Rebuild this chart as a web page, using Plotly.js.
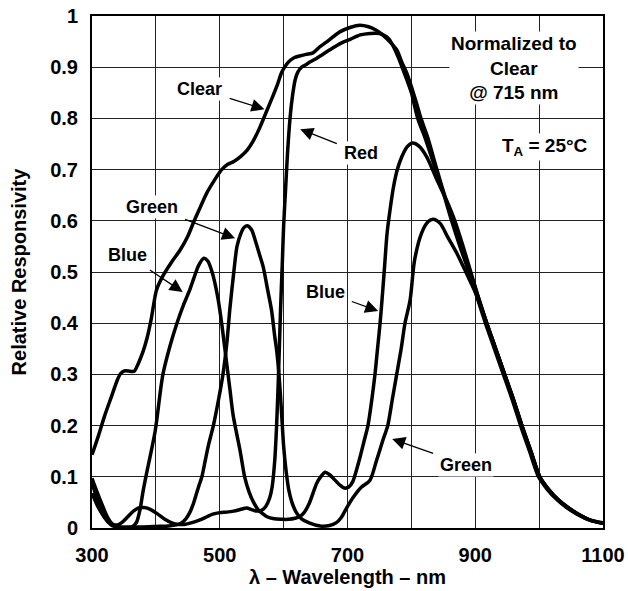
<!DOCTYPE html>
<html>
<head>
<meta charset="utf-8">
<script src="https://cdn.plot.ly/plotly-3.0.1.min.js"></script>
<style>html,body{margin:0;padding:0;background:#fff;}#chart{width:628px;height:591px;}</style>
</head>
<body>
<div id="chart"></div>
<script>
// ---- data ----
const clearWl = [300,310,320,330,340,345,352,360,366,372,380,386,393,401,410,425,438,450,460,470,480,492,503,512,522,533,543,552,563,574,582,590,597,603,610,617,625,635,646,657,670,688,705,719,733,745,755,766,777,785,793,800,808,815,825,840,852,865,878,892,905,918,932,946,960,973,987,1001,1015,1030,1045,1060,1079,1100];
const clearVal = [0.143,0.18,0.22,0.255,0.29,0.302,0.307,0.306,0.306,0.32,0.345,0.37,0.41,0.465,0.49,0.52,0.543,0.57,0.60,0.628,0.655,0.68,0.70,0.71,0.716,0.726,0.738,0.755,0.783,0.816,0.84,0.865,0.89,0.903,0.913,0.919,0.922,0.925,0.928,0.94,0.952,0.969,0.978,0.982,0.979,0.972,0.963,0.95,0.934,0.91,0.888,0.862,0.83,0.80,0.765,0.70,0.65,0.60,0.55,0.50,0.45,0.40,0.35,0.30,0.25,0.20,0.15,0.10,0.075,0.055,0.04,0.028,0.016,0.01];

const redWl = [300,308,316,324,332,340,348,356,364,372,382,392,402,414,425,435,445,455,469,480,489,500,511,522,532,542,550,558,566,572,578,582,586,589,592,595,598,600,603,606,610,614,618,622,628,635,641,650,660,675,690,705,720,735,750,758,765,772,780,790,800,810,822,838,850,863,876,890,903,916,930,944,958,971,985,999,1013,1028,1043,1058,1078,1100];
const redVal = [0.097,0.07,0.045,0.022,0.008,0.006,0.012,0.022,0.032,0.039,0.04,0.036,0.028,0.017,0.01,0.007,0.007,0.01,0.016,0.022,0.027,0.03,0.031,0.033,0.036,0.039,0.036,0.033,0.035,0.042,0.058,0.08,0.13,0.2,0.3,0.42,0.52,0.59,0.66,0.73,0.8,0.845,0.875,0.89,0.9,0.905,0.91,0.916,0.924,0.936,0.947,0.955,0.963,0.966,0.966,0.962,0.955,0.94,0.918,0.885,0.85,0.8,0.76,0.70,0.655,0.60,0.55,0.50,0.45,0.40,0.35,0.30,0.25,0.20,0.15,0.10,0.075,0.055,0.04,0.028,0.016,0.009];

const blueWl = [300,310,320,330,340,350,358,365,370,375,380,386,391,399,411,422,433,443,453,460,467,475,481,488,497,503,511,516,521,532,539,546,553,560,567,574,585,596,608,618,625,632,640,652,658,665,672,680,688,695,702,708,714,720,726,732,738,743,747,751,754,758,762,767,772,778,785,793,802,812,824,840,855,868,881,893,905,918,932,946,960,973,987,1001,1015,1030,1045,1060,1079,1100];
const blueVal = [0.068,0.04,0.02,0.008,0.003,0.001,0.0,0.004,0.012,0.035,0.072,0.11,0.14,0.19,0.3,0.355,0.4,0.435,0.465,0.49,0.513,0.527,0.522,0.5,0.45,0.4,0.32,0.27,0.22,0.15,0.1,0.07,0.05,0.036,0.028,0.022,0.018,0.017,0.017,0.019,0.022,0.03,0.048,0.088,0.1,0.109,0.104,0.094,0.084,0.078,0.08,0.09,0.113,0.14,0.17,0.2,0.25,0.3,0.35,0.4,0.445,0.51,0.576,0.625,0.666,0.7,0.725,0.744,0.752,0.746,0.725,0.68,0.64,0.6,0.55,0.5,0.45,0.40,0.35,0.30,0.25,0.20,0.15,0.10,0.075,0.055,0.04,0.028,0.016,0.009];

const greenWl = [300,310,320,330,340,360,380,400,420,432,440,447,453,458,463,468,472,477,482,490,498,505,511,516,522,527,533,538,544,550,556,562,568,575,581,586,589,592,595,597,600,604,608,613,620,628,640,657,672,682,690,699,709,722,735,745,755,763,770,777,784,790,798,805,816,826,834,845,857,871,886,902,918,932,946,960,973,987,1001,1015,1030,1045,1060,1079,1100];
const greenVal = [0.088,0.05,0.02,0.006,0.002,0.002,0.002,0.003,0.004,0.006,0.01,0.018,0.03,0.045,0.065,0.085,0.1,0.13,0.16,0.2,0.25,0.3,0.36,0.43,0.5,0.55,0.575,0.587,0.59,0.582,0.56,0.535,0.51,0.465,0.426,0.375,0.348,0.31,0.26,0.22,0.16,0.11,0.075,0.05,0.03,0.018,0.01,0.004,0.005,0.01,0.02,0.04,0.06,0.08,0.093,0.13,0.17,0.2,0.25,0.3,0.35,0.4,0.445,0.523,0.576,0.598,0.603,0.595,0.568,0.537,0.498,0.455,0.40,0.35,0.30,0.25,0.20,0.15,0.10,0.075,0.055,0.04,0.028,0.016,0.009];

const xTickVals = [300,500,700,900,1100];
const xTickText = ['300','500','700','900','1100'];
const xMinorGrid = [400,600,800,1000];
const yTickVals = [0,0.1,0.2,0.3,0.4,0.5,0.6,0.7,0.8,0.9,1];
const yTickText = ['0','0.1','0.2','0.3','0.4','0.5','0.6','0.7','0.8','0.9','1'];

// curve labels with arrows: [text, labelX, labelY, tipX, tipY]
const curveLabels = [
  ['Clear', 469, 0.857, 570, 0.818],
  ['Red', 721, 0.732, 626, 0.779],
  ['Green', 394, 0.627, 524, 0.566],
  ['Blue', 356, 0.533, 442, 0.461],
  ['Blue', 665, 0.461, 748, 0.424],
  ['Green', 886, 0.123, 770, 0.174]
];

const FONT = 'Liberation Sans, Arial, Helvetica, sans-serif';
const lineStyle = {color:'#000', width:3.5, shape:'spline', smoothing:0.8};
function tr(name, x, y){ return {type:'scatter', mode:'lines', name:name, x:x, y:y, line:lineStyle, hoverinfo:'skip'}; }
const traces = [tr('Clear',clearWl,clearVal), tr('Red',redWl,redVal), tr('Blue',blueWl,blueVal), tr('Green',greenWl,greenVal)];

const annotations = [];
curveLabels.forEach(l => annotations.push({
  text:l[0], ax:l[1], ay:l[2], x:l[3], y:l[4], xref:'x', yref:'y', axref:'x', ayref:'y',
  showarrow:true, arrowhead:2, arrowsize:2, arrowwidth:1.3, arrowcolor:'#000', standoff:0, startstandoff:6,
  font:{family:FONT, size:18, color:'#000', weight:'bold'}, bgcolor:'#fff', borderpad:1
}));
annotations.push({
  text:'Normalized to<br>Clear<br>@ 715 nm', x:961, y:0.898, xref:'x', yref:'y', showarrow:false,
  font:{family:FONT, size:19, color:'#000', weight:'bold'}, bgcolor:'#fff', borderpad:1, align:'center'
});
annotations.push({
  text:'T<sub>A</sub> = 25°C', x:1009, y:0.744, xref:'x', yref:'y', showarrow:false,
  font:{family:FONT, size:19, color:'#000', weight:'bold'}, bgcolor:'#fff', borderpad:1
});

const axisCommon = {
  showgrid:true, gridcolor:'#222', gridwidth:1, zeroline:false,
  showline:true, linecolor:'#000', linewidth:2, mirror:true, ticks:'',
  tickfont:{family:FONT, size:20, color:'#000', weight:'bold'}, fixedrange:true
};
const layout = {
  width:628, height:591, margin:{l:92, r:25, t:16, b:63},
  paper_bgcolor:'#fff', plot_bgcolor:'#fff', showlegend:false,
  font:{family:FONT, color:'#000'},
  xaxis:Object.assign({}, axisCommon, {range:[300,1100], tickmode:'array', tickvals:xTickVals, ticktext:xTickText, ticklabelstandoff:8,
    minor:{tickmode:'array', tickvals:xMinorGrid, showgrid:true, gridcolor:'#222', gridwidth:1, ticks:''},
    title:{text:'λ – Wavelength – nm', font:{family:FONT, size:20, color:'#000', weight:'bold'}, standoff:4}}),
  yaxis:Object.assign({}, axisCommon, {range:[0,1], tickmode:'array', tickvals:yTickVals, ticktext:yTickText, ticklabelstandoff:8,
    title:{text:'Relative Responsivity', font:{family:FONT, size:20, color:'#000', weight:'bold'}, standoff:18}}),
  annotations:annotations
};
Plotly.newPlot('chart', traces, layout, {displayModeBar:false, staticPlot:true});
</script>
</body>
</html>
